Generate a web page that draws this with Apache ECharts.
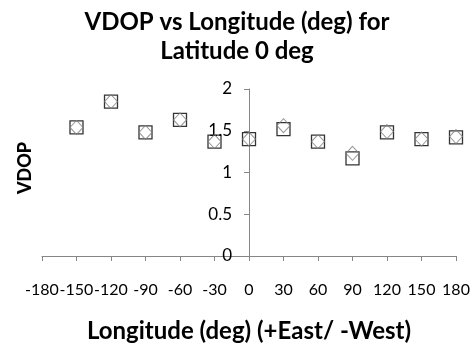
<!DOCTYPE html>
<html><head><meta charset="utf-8">
<script src="https://cdn.jsdelivr.net/npm/echarts@6/dist/echarts.min.js"></script>
<style>html,body{margin:0;padding:0;background:#fff}#c{width:474px;height:349px}</style>
</head><body><div id="c"></div>
<script>
const longitudes = [-150, -120, -90, -60, -30, 0, 30, 60, 90, 120, 150, 180];
const vdopSquare = [1.54, 1.85, 1.48, 1.63, 1.37, 1.40, 1.52, 1.37, 1.17, 1.48, 1.40, 1.42];
const vdopDiamond = [1.54, 1.85, 1.48, 1.63, 1.37, 1.40, 1.56, 1.37, 1.23, 1.49, 1.40, 1.43];
const xTicks = [-180, -150, -120, -90, -60, -30, 0, 30, 60, 90, 120, 150, 180];
const yTicks = [0, 0.5, 1, 1.5, 2];

const font = 'Lato, "Liberation Sans", sans-serif';
const chart = echarts.init(document.getElementById('c'));
chart.setOption({
  animation: false,
  title: {
    text: 'VDOP vs Longitude (deg) for\nLatitude 0 deg',
    left: 'center', top: 3,
    textStyle: {fontFamily: font, fontWeight: 'bold', fontSize: 24, lineHeight: 29, color: '#000'}
  },
  grid: {left: 42, right: 18, top: 89, bottom: 93},
  xAxis: {
    type: 'value', min: -180, max: 180, interval: 30,
    name: 'Longitude (deg) (+East/ -West)', nameLocation: 'middle', nameGap: 63,
    nameTextStyle: {fontFamily: font, fontWeight: 'bold', fontSize: 24, color: '#000'},
    axisLine: {onZero: false, lineStyle: {color: '#868686', width: 1}},
    axisTick: {show: true, length: 5, inside: false, lineStyle: {color: '#868686'}},
    axisLabel: {margin: 26, fontFamily: font, fontSize: 16, color: '#000',
      showMinLabel: true, showMaxLabel: true, hideOverlap: false, interval: 0,
      formatter: v => xTicks.includes(v) ? String(v) : ''},
    splitLine: {show: false}
  },
  yAxis: {
    type: 'value', min: 0, max: 2, interval: 0.5, offset: -207,
    axisLine: {show: true, onZero: false, lineStyle: {color: '#868686', width: 1}},
    axisTick: {show: true, length: 5, lineStyle: {color: '#868686'}},
    axisLabel: {margin: 17, fontFamily: font, fontSize: 17, color: '#000',
      formatter: v => yTicks.includes(v) ? String(v) : ''},
    splitLine: {show: false}
  },
  graphic: [{
    type: 'text', x: 25, y: 168, rotation: Math.PI / 2,
    style: {text: 'VDOP', font: '900 18px ' + font, fill: '#000', align: 'center', verticalAlign: 'middle'}
  }],
  series: [
    {
      type: 'scatter', symbol: 'rect', symbolSize: 13,
      data: longitudes.map((x, i) => [x, vdopSquare[i]]),
      itemStyle: {color: 'rgba(0,0,0,0)', borderColor: '#000', borderWidth: 1.3}
    },
    {
      type: 'scatter', symbol: 'diamond', symbolSize: [13, 14],
      data: longitudes.map((x, i) => [x, vdopDiamond[i]]),
      itemStyle: {color: 'rgba(0,0,0,0)', borderColor: '#7f7f7f', borderWidth: 1}
    }
  ]
});
</script></body></html>
